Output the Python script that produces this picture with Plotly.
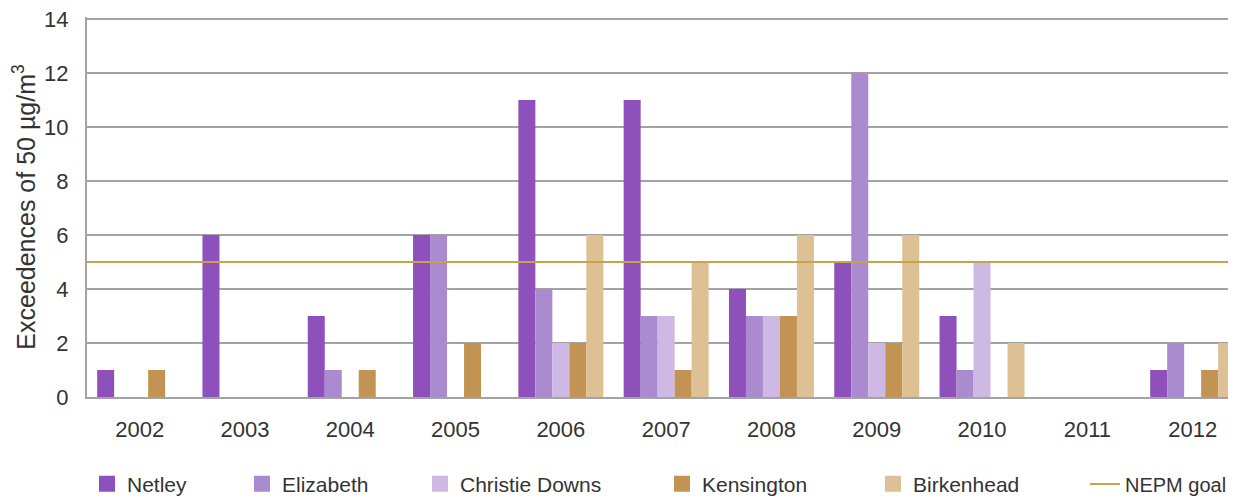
import plotly.graph_objects as go

years = [2002, 2003, 2004, 2005, 2006, 2007, 2008, 2009, 2010, 2011, 2012]
year_labels = [str(y) for y in years]

netley = [1, 6, 3, 6, 11, 11, 4, 5, 3, 0, 1]
elizabeth = [0, 0, 1, 6, 4, 3, 3, 12, 1, 0, 2]
christie_downs = [0, 0, 0, 0, 2, 3, 3, 2, 5, 0, 0]
kensington = [1, 0, 1, 2, 2, 1, 3, 2, 0, 0, 1]
birkenhead = [0, 0, 0, 0, 6, 5, 6, 6, 2, 0, 2]
nepm_goal = 5
y_ticks = [0, 2, 4, 6, 8, 10, 12, 14]

series = [
    ("Netley", netley, "#8E50BB"),
    ("Elizabeth", elizabeth, "#AB8BD0"),
    ("Christie Downs", christie_downs, "#CDB9E4"),
    ("Kensington", kensington, "#C29352"),
    ("Birkenhead", birkenhead, "#DEC095"),
]

FONT = "Arial, Liberation Sans, sans-serif"
OFF = 8  # page body margin
W, H = 1236 - OFF, 496 - OFF
ML, MR, MT, MB = 87 - OFF, 0, 9, 99
PW = W - ML - MR
PH = H - MT - MB
PX_PER_UNIT = 378 / 14
y_top = PH / PX_PER_UNIT
CAT = 105.3
x_lo = years[0] - 0.5
x_hi = x_lo + PW / CAT

fig = go.Figure()

legend_names = ["legend", "legend2", "legend3", "legend4", "legend5", "legend6"]
legend_text_x = [127, 282, 460, 702, 913, 1125]

for i, (name, vals, col) in enumerate(series):
    fig.add_trace(go.Bar(
        x=years, y=vals, name=name, marker=dict(color=col, line=dict(width=0)),
        showlegend=False, hoverinfo="x+y+name",
    ))
    fig.add_trace(go.Scatter(
        x=[None], y=[None], mode="markers", name=name,
        marker=dict(symbol="square", size=24, color=col),
        legend=legend_names[i], showlegend=True,
    ))

fig.add_trace(go.Scatter(
    x=[x_lo, years[-1] + 0.5], y=[nepm_goal, nepm_goal], mode="lines",
    name="NEPM goal", line=dict(color="#C9A24E", width=2),
    legend="legend6", showlegend=True,
))

layout_legends = {}
for ln, tx in zip(legend_names, legend_text_x):
    layout_legends[ln] = dict(
        x=(tx - OFF - 40 - ML) / PW, xanchor="left",
        y=(MT + PH - (484 - OFF)) / PH, yanchor="middle",
        orientation="h", bgcolor="rgba(0,0,0,0)", borderwidth=0,
        font=dict(family=FONT, size=20 if ln == "legend6" else 21, color="#333333"),
        itemwidth=30,
    )

fig.update_layout(
    template="none",
    width=W, height=H, autosize=False,
    margin=dict(l=ML, r=MR, t=MT, b=MB, pad=0, autoexpand=False),
    paper_bgcolor="white", plot_bgcolor="white",
    barmode="group", bargap=0.193, bargroupgap=0,
    font=dict(family=FONT, color="#333333"),
    **layout_legends,
)

fig.update_xaxes(
    range=[x_lo, x_hi], tickmode="array", tickvals=years, ticktext=year_labels,
    showgrid=False, zeroline=False,
    showline=True, linecolor="#a3a3a3", linewidth=2,
    ticks="outside", ticklen=12, tickcolor="rgba(0,0,0,0)",
    tickfont=dict(family=FONT, size=22, color="#333333"),
    automargin=False,
)
fig.update_yaxes(
    range=[0, y_top], tickmode="array", tickvals=y_ticks,
    ticktext=[str(v) for v in y_ticks], ticklabeloverflow="allow",
    showgrid=True, gridcolor="#a3a3a3", gridwidth=2, zeroline=False,
    showline=True, linecolor="#a3a3a3", linewidth=2,
    ticks="outside", ticklen=12, tickcolor="rgba(0,0,0,0)",
    tickfont=dict(family=FONT, size=22, color="#333333"),
    title=dict(text="Exceedences of 50 µg/m<sup>3</sup>",
               font=dict(family=FONT, size=25, color="#333333"), standoff=4),
    automargin=False,
)

fig.write_html("out.html")
